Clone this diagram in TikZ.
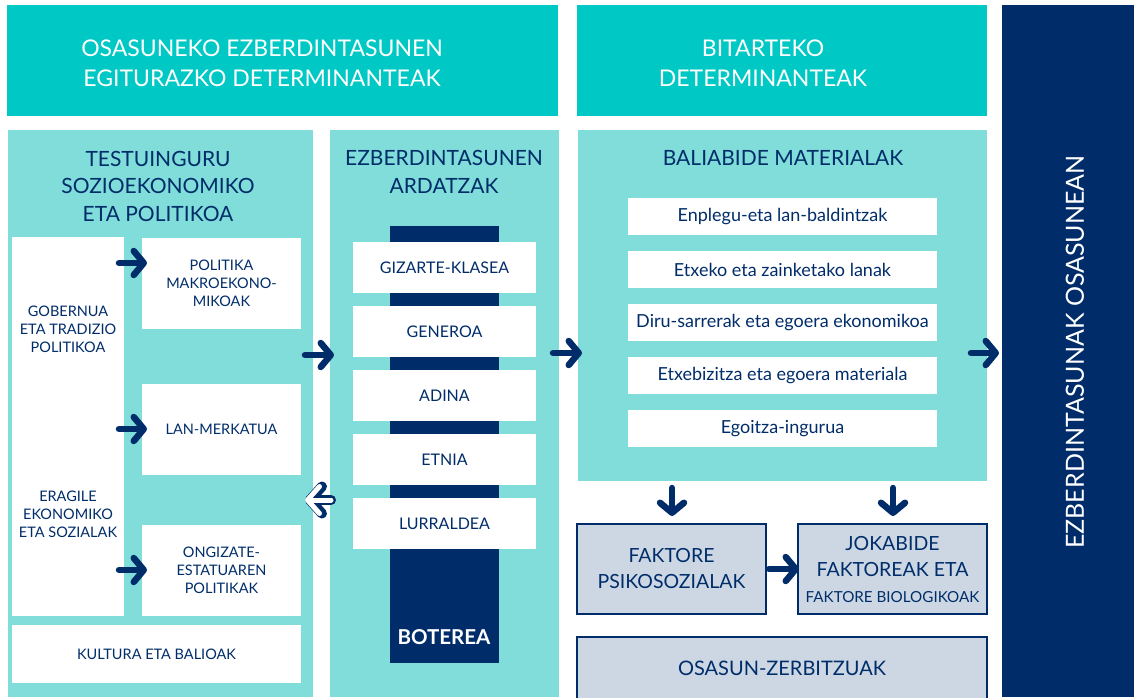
\documentclass[tikz,border=0pt]{standalone}
\usepackage{fontspec}
\setmainfont{Lato}
\usetikzlibrary{arrows.meta}
\definecolor{navy}{RGB}{0,45,106}
\definecolor{tealhd}{RGB}{0,200,196}
\definecolor{tealpn}{RGB}{128,221,217}
\definecolor{greybx}{RGB}{204,215,227}
\begin{document}
\begin{tikzpicture}[x=1pt,y=-1pt,
  blk/.style={inner sep=0pt, outer sep=0pt, anchor=center},
  hdr/.style={blk, fill=tealhd},
  pan/.style={blk, fill=tealpn},
  wbox/.style={blk, fill=white, text=navy, align=center, font=\fontsize{14.5}{18}\selectfont},
  axbox/.style={blk, fill=white, text=navy, minimum width=183pt, minimum height=51pt, font=\fontsize{16}{19}\selectfont},
  matbox/.style={blk, fill=white, text=navy, minimum width=309pt, minimum height=37pt, font=\fontsize{18}{21}\selectfont},
  gbox/.style={blk, fill=greybx, draw=navy, line width=2.5pt, text=navy, align=center, font=\fontsize{19.5}{26}\selectfont},
  hdrtxt/.style={blk, text=white, align=center, font=\fontsize{23}{30}\selectfont},
  ttl/.style={blk, text=navy, align=center, font=\fontsize{21}{27.5}\selectfont},
  smtxt/.style={blk, text=navy, align=center, font=\fontsize{14.5}{18}\selectfont},
  arr/.style={draw=navy, line width=6.5pt, line cap=round, line join=round,
    -{Straight Barb[length=10pt,width=24pt,round]}},
  harrout/.style={draw=navy, line width=10pt, line cap=round, line join=round,
    -{Straight Barb[length=12pt,width=27pt,round]}},
  harrin/.style={draw=white, line width=5pt, line cap=round, line join=round,
    -{Straight Barb[length=12pt,width=27pt,round]}},
]
\useasboundingbox (0,0) rectangle (1134,697);
\fill[white] (0,0) rectangle (1134,697);

% headers
\node[hdr, minimum width=551pt, minimum height=111pt] (hdrL) at (282.5,60.5) {};
\node[hdrtxt] (hdrLt) at (262,63) {OSASUNEKO EZBERDINTASUNEN\\EGITURAZKO DETERMINANTEAK};
\node[hdr, minimum width=410pt, minimum height=111pt] (hdrR) at (782,60.5) {};
\node[hdrtxt] (hdrRt) at (763,63) {BITARTEKO\\DETERMINANTEAK};

% right dark bar
\node[blk, fill=navy, minimum width=132pt, minimum height=692pt] (rbar) at (1068,351) {};
\node[hdrtxt, rotate=90, font=\fontsize{25}{30}\selectfont] (rbart) at (1075,352) {EZBERDINTASUNAK OSASUNEAN};

% panels
\node[pan, minimum width=305pt, minimum height=567pt] (panL) at (160.5,413.5) {};
\node[pan, minimum width=229pt, minimum height=567pt] (panM) at (444.5,413.5) {};
\node[pan, minimum width=409pt, minimum height=351pt] (panR) at (782.5,305.5) {};

\node[ttl] (panLt) at (158,186) {TESTUINGURU\\SOZIOEKONOMIKO\\ETA POLITIKOA};
\node[ttl] (panMt) at (444,172) {EZBERDINTASUNEN\\ARDATZAK};
\node[ttl] (panRt) at (783,158) {BALIABIDE MATERIALAK};

% left panel contents
\node[wbox, minimum width=112pt, minimum height=379pt] (gob) at (68,426.5) {};
\node[smtxt] (gobt) at (68,329) {GOBERNUA\\ETA TRADIZIO\\POLITIKOA};
\node[smtxt] (erat) at (68,514) {ERAGILE\\EKONOMIKO\\ETA SOZIALAK};
\node[wbox, minimum width=159pt, minimum height=91pt] (pol) at (221.5,283.5) {POLITIKA\\MAKROEKONO-\\MIKOAK};
\node[wbox, minimum width=159pt, minimum height=91pt] (lan) at (221.5,429.5) {LAN-MERKATUA};
\node[wbox, minimum width=159pt, minimum height=91pt] (ong) at (221.5,570.5) {ONGIZATE-\\ESTATUAREN\\POLITIKAK};
\node[wbox, minimum width=289pt, minimum height=58pt] (kul) at (156.5,654) {KULTURA ETA BALIOAK};

% middle panel contents
\node[blk, fill=navy, minimum width=109pt, minimum height=437pt] (bot) at (444.5,444.5) {};
\node[blk, text=white, font=\fontsize{20.5}{24}\selectfont\bfseries] (bott) at (444,637) {BOTEREA};
\node[axbox] (ax1) at (444.5,267.5) {GIZARTE-KLASEA};
\node[axbox] (ax2) at (444.5,331.5) {GENEROA};
\node[axbox] (ax3) at (444.5,395.5) {ADINA};
\node[axbox] (ax4) at (444.5,459.5) {ETNIA};
\node[axbox] (ax5) at (444.5,523.5) {LURRALDEA};

% right panel contents
\node[matbox] (m1) at (782.5,216.5) {Enplegu-eta lan-baldintzak};
\node[matbox] (m2) at (782.5,269.5) {Etxeko eta zainketako lanak};
\node[matbox] (m3) at (782.5,322.5) {Diru-sarrerak eta egoera ekonomikoa};
\node[matbox] (m4) at (782.5,375.5) {Etxebizitza eta egoera materiala};
\node[matbox] (m5) at (782.5,428.5) {Egoitza-ingurua};

% grey boxes
\node[gbox, minimum width=189pt, minimum height=90pt] (fak) at (671.5,569) {FAKTORE\\PSIKOSOZIALAK};
\node[gbox, minimum width=189pt, minimum height=90pt] (jok) at (892.5,569) {JOKABIDE\\FAKTOREAK ETA\\{\fontsize{15.2}{26}\selectfont FAKTORE BIOLOGIKOAK}};
\node[gbox, minimum width=410pt, minimum height=72pt] (osz) at (782,673) {};
\node[blk, text=navy, font=\fontsize{20}{24}\selectfont] (oszt) at (782,668) {OSASUN-ZERBITZUAK};

% arrow coordinates
\coordinate (a1s) at (119,263);  \coordinate (a1e) at (147,263);
\coordinate (a2s) at (119,429);  \coordinate (a2e) at (147,429);
\coordinate (a3s) at (119,570);  \coordinate (a3e) at (147,570);
\coordinate (a4s) at (305,355);  \coordinate (a4e) at (334,355);
\coordinate (a5s) at (553,353);  \coordinate (a5e) at (582,353);
\coordinate (a6s) at (971,353);  \coordinate (a6e) at (999,353);
\coordinate (a7s) at (769,569);  \coordinate (a7e) at (799,569);
\coordinate (d1s) at (672,488);  \coordinate (d1e) at (672,516);
\coordinate (d2s) at (893,488);  \coordinate (d2e) at (893,516);
\coordinate (hs) at (331,500);   \coordinate (he) at (305,500);

\draw[arr] (a1s) -- (a1e);
\draw[arr] (a2s) -- (a2e);
\draw[arr] (a3s) -- (a3e);
\draw[arr] (a4s) -- (a4e);
\draw[arr] (a5s) -- (a5e);
\draw[arr] (a6s) -- (a6e);
\draw[arr] (a7s) -- (a7e);
\draw[arr] (d1s) -- (d1e);
\draw[arr] (d2s) -- (d2e);
\draw[harrout] (hs) -- (he);
\draw[harrin] (hs) -- (he);
\end{tikzpicture}
\end{document}
